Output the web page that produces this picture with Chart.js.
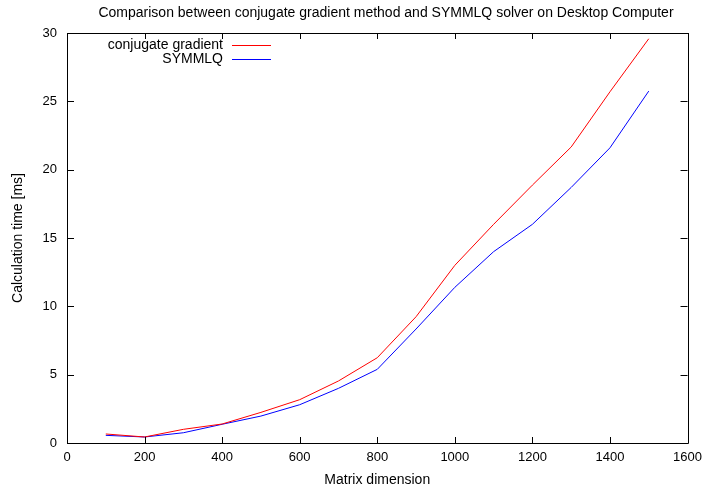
<!DOCTYPE html>
<html>
<head>
<meta charset="utf-8">
<script src="https://cdn.jsdelivr.net/npm/chart.js@4"></script>
<style>
  html, body { margin: 0; padding: 0; background: #fff; }
  #wrap { width: 709px; height: 489px; position: relative; }
</style>
</head>
<body>
<div id="wrap"><canvas id="chart"></canvas></div>
<script>
// values
const dims = [100, 200, 300, 400, 500, 600, 700, 800, 900, 1000, 1100, 1200, 1300, 1400, 1500];
const cgTimes = [0.66, 0.44, 1.0, 1.39, 2.24, 3.17, 4.54, 6.24, 9.24, 13.0, 16.0, 18.87, 21.66, 25.7, 29.58];
const symmlqTimes = [0.56, 0.44, 0.75, 1.37, 1.97, 2.8, 4.0, 5.39, 8.34, 11.39, 14.0, 16.0, 18.7, 21.6, 25.75];
const xTicks = [0, 200, 400, 600, 800, 1000, 1200, 1400, 1600];
const yTicks = [0, 5, 10, 15, 20, 25, 30];

const FONT = 'Liberation Sans, Arial, Helvetica, sans-serif';

const toPoints = (xs, ys) => xs.map((x, i) => ({ x: x, y: ys[i] }));

// gnuplot-like frame: border box, inward ticks on all sides, title, key
const gnuplotFrame = {
    id: 'gnuplotFrame',
    afterDraw(chart) {
        const ctx = chart.ctx;
        const area = chart.chartArea;
        const xs = chart.scales.x;
        const ys = chart.scales.y;
        ctx.save();
        ctx.strokeStyle = '#000';
        ctx.lineWidth = 1;
        ctx.beginPath();
        ctx.rect(Math.round(area.left) + 0.5, Math.round(area.top) + 0.5,
                 Math.round(area.right - area.left), Math.round(area.bottom - area.top));
        ctx.stroke();

        ctx.beginPath();
        xTicks.forEach(v => {
            const px = Math.round(xs.getPixelForValue(v)) + 0.5;
            ctx.moveTo(px, area.bottom); ctx.lineTo(px, area.bottom - 6);
            ctx.moveTo(px, area.top); ctx.lineTo(px, area.top + 6);
        });
        yTicks.forEach(v => {
            const py = Math.round(ys.getPixelForValue(v)) + 0.5;
            ctx.moveTo(area.left, py); ctx.lineTo(area.left + 7, py);
            ctx.moveTo(area.right, py); ctx.lineTo(area.right - 7, py);
        });
        ctx.stroke();

        // title
        ctx.fillStyle = '#000';
        ctx.font = '14px ' + FONT;
        ctx.textAlign = 'center';
        ctx.textBaseline = 'middle';
        ctx.fillText('Comparison between conjugate gradient method and SYMMLQ solver on Desktop Computer', 386, 13);

        // key
        ctx.textAlign = 'right';
        chart.data.datasets.forEach((ds, i) => {
            const y = 45 + i * 14;
            ctx.fillStyle = '#000';
            ctx.fillText(ds.label, 223, y);
            ctx.strokeStyle = ds.borderColor;
            ctx.beginPath();
            ctx.moveTo(232, y + 0.5);
            ctx.lineTo(271, y + 0.5);
            ctx.stroke();
        });
        ctx.restore();
    }
};

new Chart(document.getElementById('chart'), {
    type: 'line',
    data: {
        datasets: [
            {
                label: 'conjugate gradient',
                data: toPoints(dims, cgTimes),
                borderColor: '#ff0000',
                borderWidth: 1,
                pointRadius: 0,
                tension: 0
            },
            {
                label: 'SYMMLQ',
                data: toPoints(dims, symmlqTimes),
                borderColor: '#0000ff',
                borderWidth: 1,
                pointRadius: 0,
                tension: 0
            }
        ]
    },
    options: {
        responsive: true,
        maintainAspectRatio: false,
        animation: false,
        layout: { padding: { left: 0, right: 19, top: 33, bottom: 0 } },
        plugins: {
            legend: { display: false },
            title: { display: false },
            tooltip: { enabled: false }
        },
        scales: {
            x: {
                type: 'linear',
                min: 0,
                max: 1600,
                afterFit: s => { s.height = 46; },
                afterBuildTicks: s => { s.ticks = xTicks.map(v => ({ value: v })); },
                grid: { display: false, drawTicks: false },
                border: { display: false },
                ticks: {
                    color: '#000', padding: 7, maxRotation: 0,
                    font: { family: FONT, size: 13 },
                    callback: v => String(v)
                },
                title: {
                    display: true,
                    text: 'Matrix dimension',
                    color: '#000',
                    font: { family: FONT, size: 14 },
                    padding: { top: 0, bottom: 0 }
                }
            },
            y: {
                min: 0,
                max: 30,
                afterFit: s => { s.width = 67; },
                afterBuildTicks: s => { s.ticks = yTicks.map(v => ({ value: v })); },
                grid: { display: false, drawTicks: false },
                border: { display: false },
                ticks: {
                    color: '#000', padding: 10,
                    font: { family: FONT, size: 13 },
                    callback: v => String(v)
                },
                title: {
                    display: true,
                    text: 'Calculation time [ms]',
                    color: '#000',
                    font: { family: FONT, size: 14 },
                    padding: { top: 10, bottom: 0 }
                }
            }
        }
    },
    plugins: [gnuplotFrame]
});
</script>
</body>
</html>
